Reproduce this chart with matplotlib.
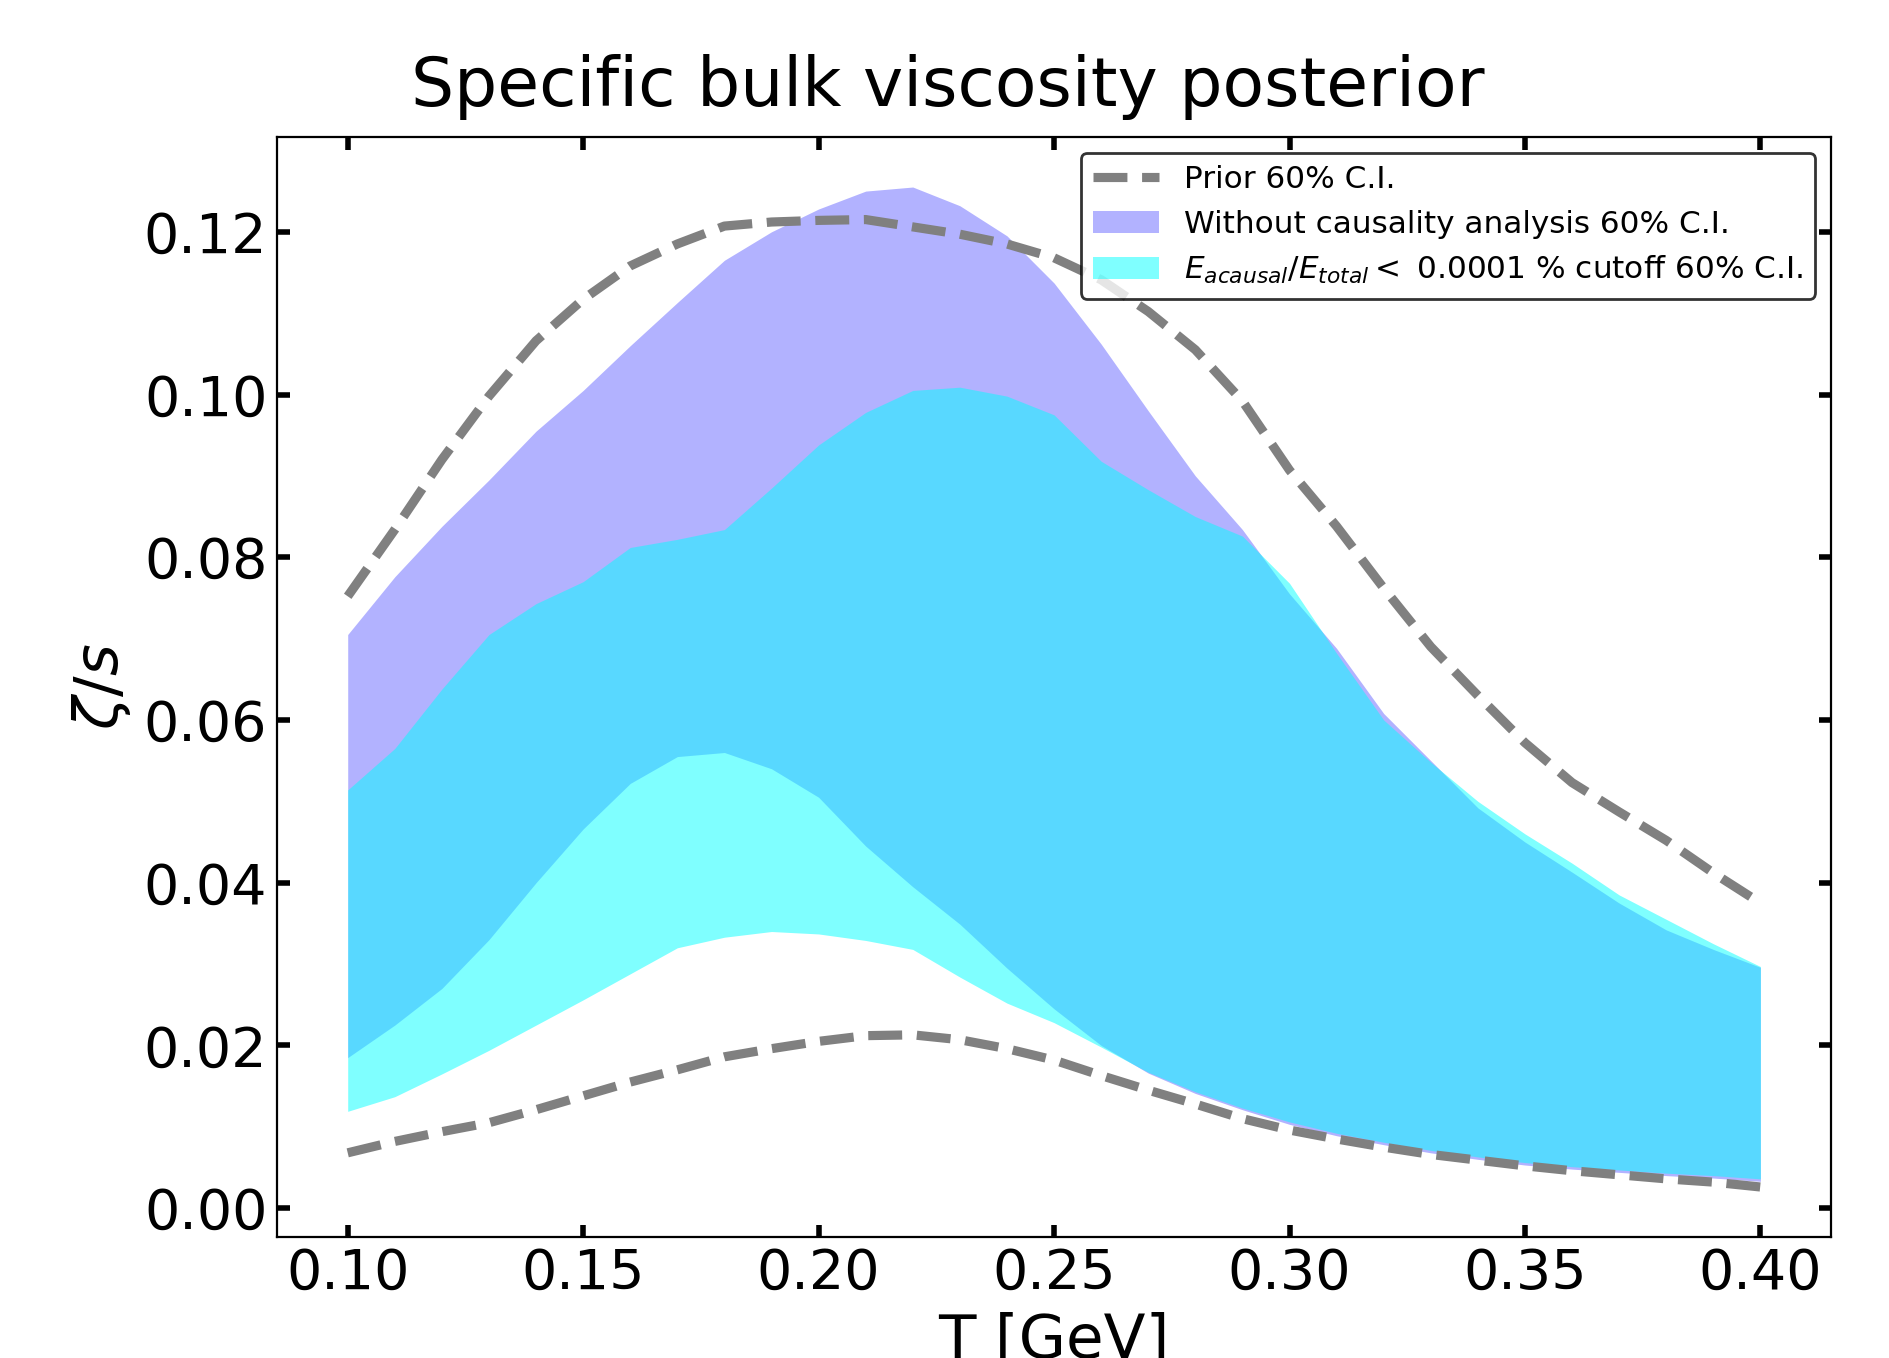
import numpy as np
import matplotlib
matplotlib.use("Agg")
import matplotlib.pyplot as plt

# temperature grid [GeV]
T = [0.10, 0.11, 0.12, 0.13, 0.14, 0.15, 0.16, 0.17, 0.18, 0.19, 0.20,
     0.21, 0.22, 0.23, 0.24, 0.25, 0.26, 0.27, 0.28, 0.29, 0.30,
     0.31, 0.32, 0.33, 0.34, 0.35, 0.36, 0.37, 0.38, 0.39, 0.40]

# prior 60% C.I. (dashed)
prior_hi = [0.0752, 0.0834, 0.0920, 0.0998, 0.1066, 0.1117, 0.1158, 0.1185, 0.1207, 0.1212, 0.1214,
            0.1215, 0.1206, 0.1197, 0.1185, 0.1168, 0.1141, 0.1102, 0.1055, 0.0992, 0.0907,
            0.0838, 0.0762, 0.0690, 0.0630, 0.0572, 0.0523, 0.0487, 0.0452, 0.0412, 0.0375]
prior_lo = [0.0068, 0.0082, 0.0094, 0.0105, 0.0121, 0.0138, 0.0155, 0.0170, 0.0186, 0.0196, 0.0205,
            0.0212, 0.0213, 0.0207, 0.0196, 0.0182, 0.0163, 0.0145, 0.0128, 0.0110, 0.0096,
            0.0085, 0.0075, 0.0066, 0.0059, 0.0052, 0.0046, 0.0041, 0.0036, 0.0032, 0.0026]

# without causality analysis 60% C.I.
nocaus_hi = [0.0705, 0.0776, 0.0838, 0.0895, 0.0955, 0.1005, 0.1060, 0.1113, 0.1165, 0.1200, 0.1228,
             0.1250, 0.1255, 0.1232, 0.1195, 0.1137, 0.1062, 0.0980, 0.0900, 0.0834, 0.0755,
             0.0688, 0.0608, 0.0550, 0.0492, 0.0450, 0.0413, 0.0375, 0.0342, 0.0318, 0.0296]
nocaus_lo = [0.0185, 0.0225, 0.0270, 0.0330, 0.0400, 0.0466, 0.0522, 0.0555, 0.0560, 0.0540, 0.0505,
             0.0445, 0.0395, 0.0349, 0.0295, 0.0245, 0.0200, 0.0166, 0.0141, 0.0121, 0.0103,
             0.0089, 0.0078, 0.0068, 0.0060, 0.0053, 0.0048, 0.0044, 0.0040, 0.0037, 0.0033]

# E_acausal/E_total < 0.0001 % cutoff 60% C.I.
cut_hi = [0.0514, 0.0565, 0.0638, 0.0705, 0.0743, 0.0770, 0.0812, 0.0822, 0.0834, 0.0885, 0.0938,
          0.0978, 0.1005, 0.1009, 0.0998, 0.0975, 0.0918, 0.0883, 0.0850, 0.0826, 0.0768,
          0.0682, 0.0600, 0.0548, 0.0500, 0.0460, 0.0424, 0.0385, 0.0355, 0.0325, 0.0297]
cut_lo = [0.0119, 0.0137, 0.0165, 0.0194, 0.0225, 0.0256, 0.0288, 0.0320, 0.0333, 0.0340, 0.0337,
          0.0329, 0.0318, 0.0284, 0.0252, 0.0228, 0.0198, 0.0167, 0.0143, 0.0123, 0.0106,
          0.0092, 0.0081, 0.0071, 0.0063, 0.0056, 0.0051, 0.0047, 0.0043, 0.0040, 0.0036]

fig = plt.figure(figsize=(9.45, 6.79), dpi=200)
ax = fig.add_axes([0.1466, 0.0891, 0.8222, 0.8100])

ax.fill_between(T, nocaus_lo, nocaus_hi, color='blue', alpha=0.3, lw=0,
                label='Without causality analysis 60% C.I.')
ax.fill_between(T, cut_lo, cut_hi, color='cyan', alpha=0.5, lw=0,
                label=r'$E_{acausal}/E_{total} <$ 0.0001 % cutoff 60% C.I.')
ax.plot(T, prior_hi, '--', color='gray', lw=3.3, label='Prior 60% C.I.')
ax.plot(T, prior_lo, '--', color='gray', lw=3.3)

ax.set_yticks([0.00, 0.02, 0.04, 0.06, 0.08, 0.10, 0.12])
ax.set_xticks([0.10, 0.15, 0.20, 0.25, 0.30, 0.35, 0.40])
ax.tick_params(direction='in', top=True, right=True, length=4.5, width=2, labelsize=20)
ax.set_xlabel('T [GeV]', fontsize=22)
ax.set_ylabel(r'$\zeta/s$', fontsize=22)

h, l = ax.get_legend_handles_labels()
order = [2, 0, 1]
leg = ax.legend([h[i] for i in order], [l[i] for i in order], loc='upper right',
                fontsize=11.2, handlelength=2.1)
leg.get_frame().set_edgecolor('black')
leg.get_frame().set_linewidth(1.0)

fig.suptitle('Specific bulk viscosity posterior', fontsize=24.5, x=0.5016, y=0.922, va='baseline')

fig.savefig('out.png', dpi=200)
